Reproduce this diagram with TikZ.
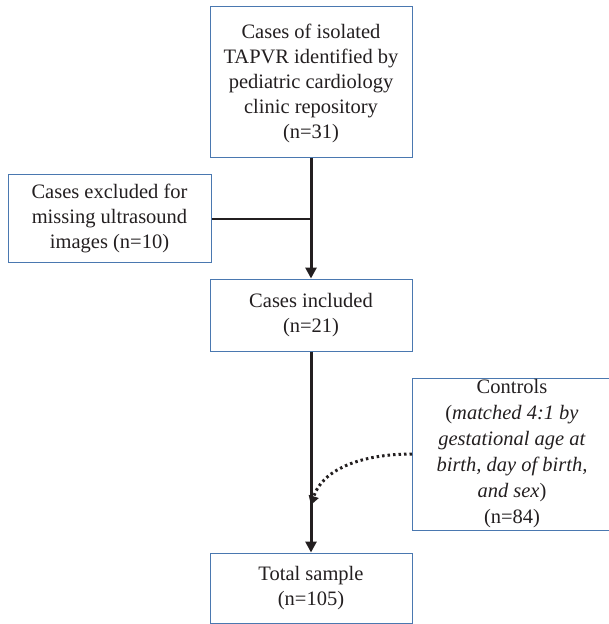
\documentclass[tikz,border=0pt]{standalone}
\usepackage{fontspec}
\setmainfont{Liberation Serif}
\usetikzlibrary{arrows.meta}
\definecolor{boxblue}{HTML}{4A78B0}
\definecolor{ink}{HTML}{231F20}
\tikzset{
  box/.style={draw=boxblue, line width=1pt, rectangle, align=center, text=ink,
    font=\fontsize{20.5}{25}\selectfont, inner sep=0pt},
  flow/.style={draw=ink, line width=3pt, -{Triangle[width=11pt,length=11pt]}},
  thinline/.style={draw=ink, line width=1.2pt},
  dotflow/.style={draw=ink, line width=3pt, dash pattern=on 2.5pt off 3pt,
    -{Triangle[width=10pt,length=9pt]}}
}
\begin{document}
\begin{tikzpicture}[x=1pt,y=-1pt]
\useasboundingbox (0,0) rectangle (609,624);
\begin{scope}
\clip (0,0) rectangle (609,624);
\node[box, minimum width=202pt, minimum height=151pt] (top) at (311,81.5) {};
\node[text=ink, align=center, font=\fontsize{20.5}{25}\selectfont] (toptext) at (311,83.5)
  {Cases of isolated\\TAPVR identified by\\pediatric cardiology\\clinic repository\\(n=31)};
\node[box, minimum width=203pt, minimum height=88pt] (excl) at (109.5,218)
  {Cases excluded for\\missing ultrasound\\images (n=10)};
\node[box, minimum width=202pt, minimum height=72pt] (incl) at (311,315)
  {Cases included\\(n=21)};
\node[box, minimum width=202pt, minimum height=70pt] (total) at (311,588)
  {Total sample\\(n=105)};
\node[box, minimum width=200pt, minimum height=152pt, anchor=west] (ctrl) at (412,454) {};
\node[text=ink, align=center, font=\fontsize{20.5}{26}\selectfont] (ctrltext) at (512,454)
  {Controls\\(\textit{matched 4:1 by}\\\textit{gestational age at}\\\textit{birth, day of birth,}\\\textit{and sex})\\(n=84)};
\coordinate (junc) at (311,219);
\coordinate (dotend) at (311,505);
\draw[flow] (top.south) -- (incl.north);
\draw[thinline] (excl.east |- junc) -- (junc);
\draw[flow] (incl.south) -- (total.north);
\draw[dotflow] (ctrl.west) .. controls (360,454) and (322,470) .. (dotend);
\end{scope}
\end{tikzpicture}
\end{document}
